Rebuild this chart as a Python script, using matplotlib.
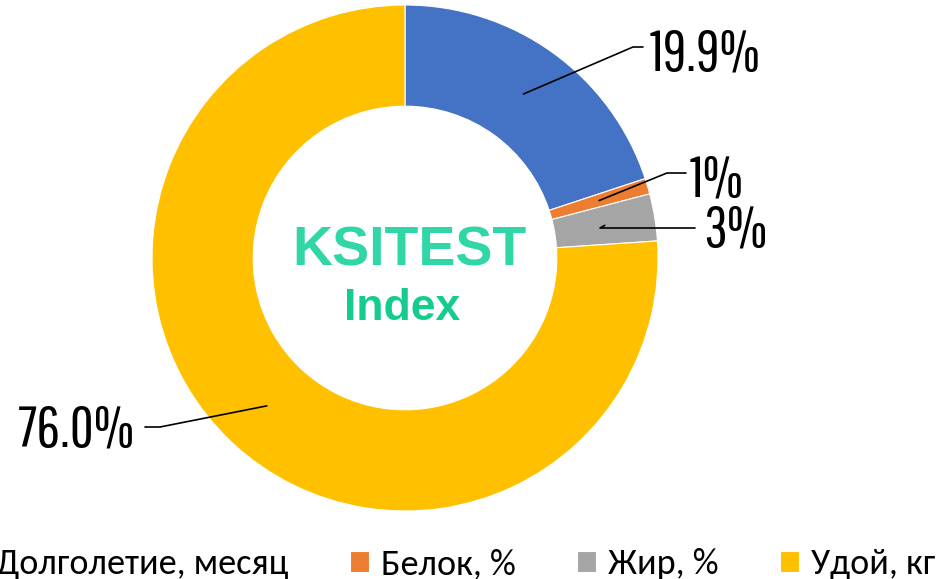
import matplotlib
matplotlib.use("Agg")
import matplotlib.pyplot as plt
import numpy as np

categories = ["Долголетие, месяц", "Белок, %", "Жир, %", "Удой, кг"]
values = [19.9, 1.0, 3.0, 76.0]
label_texts = ["19.9%", "1%", "3%", "76.0%"]
colors = ["#4472C4", "#ED7D31", "#A5A5A5", "#FFC000"]

W, H = 944, 579
CX, CY, R = 405, 258, 253

fig = plt.figure(figsize=(W / 100, H / 100), dpi=100)
ax = fig.add_axes([0, 0, 1, 1])


def px(x, y):
    return (x - CX) / R, (CY - y) / R


wedges, _ = ax.pie(values, colors=colors, startangle=90, counterclock=False,
                   radius=1.0, wedgeprops=dict(width=0.4, edgecolor="white", linewidth=0.8))
ax.set_xlim(-CX / R, (W - CX) / R)
ax.set_ylim(-(H - CY) / R, CY / R)
ax.set_aspect("equal")
ax.axis("off")

pct_font = ["Pathway Gothic One", "DejaVu Sans"]
# label layout in pixels: text anchor, elbow point, end of horizontal segment
text_pos = [(650, 55, "left"), (690, 181, "left"), (703, 231, "left"), (135, 430, "right")]
elbow = [(633, 47), (667, 173), (600, 228), (160, 427)]
hend = [(643, 47), (686, 173), (695, 228), (145, 427)]
for w, lab, (tx, ty, ha), (ex, ey), (hx, hy) in zip(wedges, label_texts, text_pos, elbow, hend):
    ang = np.deg2rad((w.theta1 + w.theta2) / 2)
    ax_x, ax_y = 0.8 * np.cos(ang), 0.8 * np.sin(ang)
    exd, eyd = px(ex, ey)
    hxd, hyd = px(hx, hy)
    ax.plot([ax_x, exd, hxd], [ax_y, eyd, hyd], color="black", lw=1.2,
            solid_capstyle="round")
    x0, y0 = px(tx, ty)
    ax.text(x0, y0, lab, ha=ha, va="center", fontsize=42,
            family=pct_font, color="black")

kx, ky = px(409, 252)
ax.text(kx, ky, "KSITEST", ha="center", va="center", fontsize=40, fontweight="bold",
        family="Liberation Sans", color="#30D6A6")
ix, iy = px(402, 308)
ax.text(ix, iy, "Index", ha="center", va="center", fontsize=32, fontweight="bold",
        family="Liberation Sans", color="#14CC8C")

fig.legend(wedges, categories, loc="center right", bbox_to_anchor=(935 / W, 1 - 564 / H),
           ncol=4, frameon=False, prop={"family": ["Carlito", "Liberation Sans"], "size": 26},
           handlelength=0.53, handleheight=0.53, handletextpad=0.33, columnspacing=1.7,
           borderpad=0, borderaxespad=0)

fig.savefig("out.png", dpi=100, facecolor="white")
